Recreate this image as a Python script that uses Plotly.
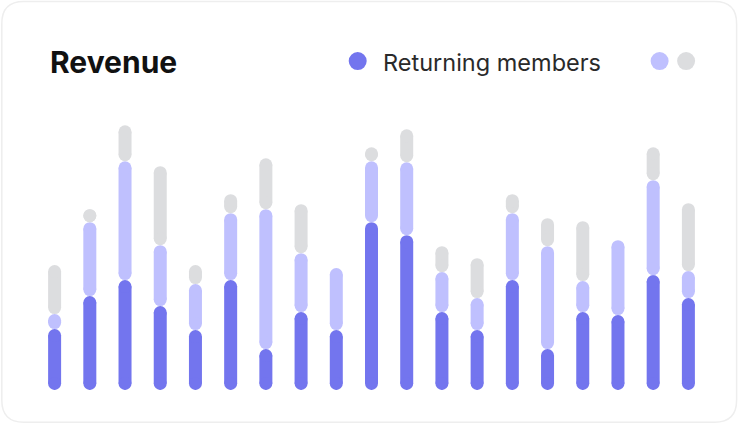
import plotly.graph_objects as go

# ---- data ----------------------------------------------------------
months = list(range(1, 20))
returning = [61, 94, 110, 84, 60, 110, 41, 78, 60, 168, 155, 78, 60, 110, 41, 78, 75, 115, 92]
new_members = [15, 74, 119, 61, 46, 67, 140, 59, 62, 61, 73, 40, 32, 67, 103, 31, 75, 95, 27]
other = [49, 13, 36, 79, 19, 19, 51, 49, 0, 14, 33, 26, 40, 19, 28, 60, 0, 33, 68]

DARK = "#7375EE"
LIGHT = "#BFC0FE"
GREY = "#DCDDDF"

W, H = 738, 425
L, R, T, B = 36.7, 32.1, 100, 34.7
plot_w = W - L - R
plot_h = H - T - B
BAR_PX = 13          # bar thickness in pixels
CAP = BAR_PX / 2     # y axis is 1 unit per pixel, so the cap radius in data units


def px(x, y):
    # figure pixels -> paper coords
    return (x - L) / plot_w, (H - B - y) / plot_h


fig = go.Figure()


def add_pills(starts, lengths, color):
    # each segment: a thick line between the cap centres plus round markers at both ends
    xs, ys = [], []
    for m, s, l in zip(months, starts, lengths):
        if l <= 0:
            continue
        lo, hi = s + CAP, s + l - CAP
        if hi < lo:
            lo = hi = s + l / 2
        xs += [m, m, None]
        ys += [lo, hi, None]
    fig.add_trace(go.Scatter(
        x=xs, y=ys, mode="lines+markers",
        line=dict(color=color, width=BAR_PX),
        marker=dict(color=color, size=BAR_PX, line_width=0),
        showlegend=False, hoverinfo="skip",
    ))


stack2 = returning
stack3 = [a + b for a, b in zip(returning, new_members)]
add_pills([0] * len(months), returning, DARK)
add_pills(stack2, new_members, LIGHT)
add_pills(stack3, other, GREY)

# ---- card outline ---------------------------------------------------
x0, y0, x1, y1, r = 1.5, 1.5, 736.5, 422.5, 22
pts = [
    ("M", x0 + r, y0), ("L", x1 - r, y0), ("Q", x1, y0, x1, y0 + r),
    ("L", x1, y1 - r), ("Q", x1, y1, x1 - r, y1), ("L", x0 + r, y1),
    ("Q", x0, y1, x0, y1 - r), ("L", x0, y0 + r), ("Q", x0, y0, x0 + r, y0),
]
path = ""
for p in pts:
    cmd, coords = p[0], p[1:]
    parts = []
    for i in range(0, len(coords), 2):
        a, b = px(coords[i], coords[i + 1])
        parts.append(f"{a:.5f},{b:.5f}")
    path += cmd + " ".join(parts) + " "
shapes = [dict(type="path", path=path + "Z", xref="paper", yref="paper",
               line=dict(color="#EEEEEE", width=1.5), fillcolor="rgba(0,0,0,0)", layer="below")]

# legend dots
for cx, col in [(357.5, DARK), (659.5, LIGHT), (686, GREY)]:
    a0, b0 = px(cx - 9, 61 + 9)
    a1, b1 = px(cx + 9, 61 - 9)
    shapes.append(dict(type="circle", xref="paper", yref="paper", x0=a0, x1=a1, y0=b0, y1=b1,
                       fillcolor=col, line_width=0))

tx, ty = px(48, 62)
lx, ly = px(381, 62)
fig.update_layout(
    width=W, height=H,
    margin=dict(l=L, r=R, t=T, b=B),
    paper_bgcolor="white", plot_bgcolor="white",
    font=dict(family="Inter, sans-serif"),
    xaxis=dict(visible=False, range=[0.5, 19.5]),
    yaxis=dict(visible=False, range=[0, plot_h]),
    shapes=shapes,
    annotations=[
        dict(text="<b>Revenue</b>", x=tx, y=ty, xref="paper", yref="paper",
             xanchor="left", yanchor="middle", showarrow=False,
             font=dict(size=30, color="#111111")),
        dict(text="Returning members", x=lx, y=ly, xref="paper", yref="paper",
             xanchor="left", yanchor="middle", showarrow=False,
             font=dict(size=23.5, color="#2A2A2A")),
    ],
)

fig.write_html("out.html", config={"displayModeBar": False},
               post_script="document.body.style.margin='0';")
